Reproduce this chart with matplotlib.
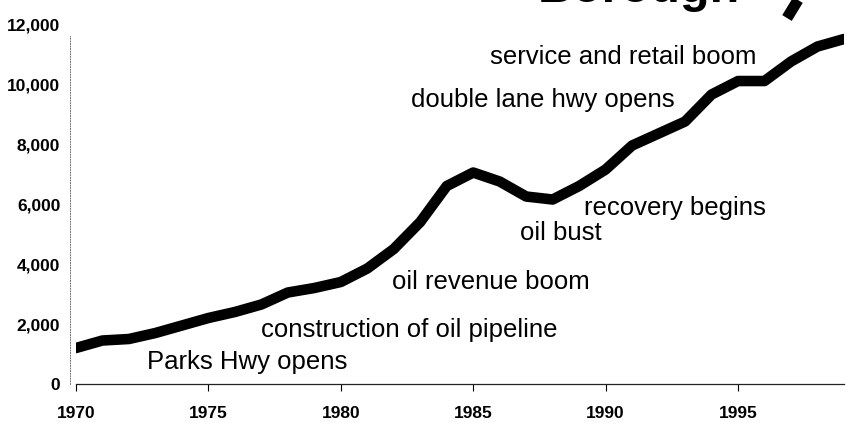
import matplotlib
matplotlib.use("Agg")
import matplotlib.pyplot as plt
from matplotlib.lines import Line2D

# population of the borough, one value per year
years = list(range(1970, 2000))
population = [1200, 1450, 1500, 1700, 1950, 2200, 2400, 2650, 3050, 3200,
              3400, 3850, 4500, 5400, 6600, 7050, 6750, 6250, 6150, 6600,
              7150, 7950, 8350, 8750, 9650, 10100, 10100, 10750, 11250, 11500]

xticks = [1970, 1975, 1980, 1985, 1990, 1995]
yticks = [0, 2000, 4000, 6000, 8000, 10000, 12000]
ytick_labels = ["0", "2,000", "4,000", "6,000", "8,000", "10,000", "12,000"]

# annotations: text, x centre (year), y centre (people)
notes = [
    ("Parks Hwy opens", 1976.46, 730),
    ("construction of oil pipeline", 1982.58, 1800),
    ("oil revenue boom", 1985.67, 3400),
    ("oil bust", 1988.32, 5030),
    ("recovery begins", 1992.62, 5870),
    ("double lane hwy opens", 1987.62, 9470),
    ("service and retail boom", 1990.68, 10900),
]

sans = ["Liberation Sans", "DejaVu Sans"]
narrow = ["Liberation Sans Narrow", "Liberation Sans", "DejaVu Sans"]

fig = plt.figure(figsize=(8.46, 4.23), dpi=100)
ax = fig.add_axes([0.0898, 0.0922, 0.9078, 0.851])

# spines first: moving a spine resets the tick labels
for side in ["top", "right"]:
    ax.spines[side].set_visible(False)
ax.spines["left"].set_position(("outward", 4.3))
ax.spines["left"].set_linestyle(":")
ax.spines["left"].set_color("#777777")
ax.spines["left"].set_linewidth(0.7)
ax.spines["bottom"].set_linewidth(0.9)
ax.spines["bottom"].set_color("#222222")

ax.plot(years, population, color="black", lw=7.6,
        solid_capstyle="round", solid_joinstyle="round")

ax.set_xlim(1970, 1999)
ax.set_ylim(0, 12000)
ax.spines["left"].set_bounds(0, 11600)

ax.set_xticks(xticks)
ax.set_xticklabels([str(x) for x in xticks], family=narrow, fontweight="bold", fontsize=12.5)
ax.set_yticks(yticks)
ax.set_yticklabels(ytick_labels, family=narrow, fontweight="bold", fontsize=12.5)
ax.tick_params(axis="x", direction="out", length=5, width=0.8, pad=10.5)
ax.tick_params(axis="y", length=0, pad=7)

for txt, x, y in notes:
    ax.text(x, y, txt, family=sans, fontsize=18.5, ha="center", va="center")

# title, cut off at the top of the picture as in the original
ax.text(1991.24, 12730, "Borough", family=sans, fontsize=35, fontweight="bold",
        ha="center", va="baseline", clip_on=False)
# thick stroke fragment next to the title
fig.add_artist(Line2D([798 / 846, 787 / 846], [1.0, 1 - 18 / 423],
                      transform=fig.transFigure, color="black", lw=8,
                      solid_capstyle="butt"))

fig.savefig("out.png", dpi=100)
